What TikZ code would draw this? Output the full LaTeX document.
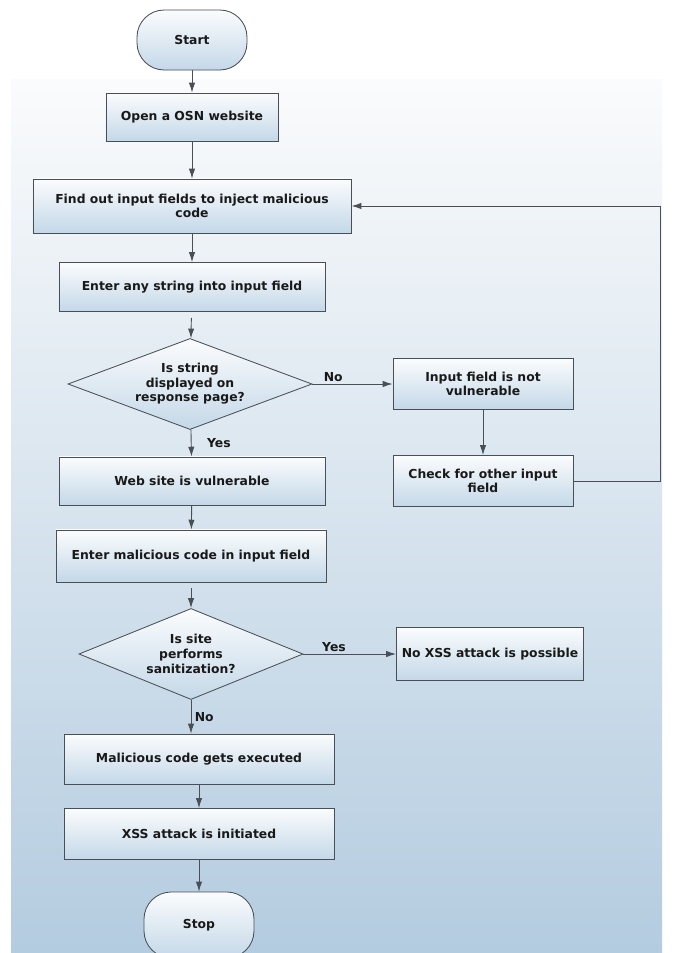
\documentclass[tikz,border=0pt]{standalone}
\usepackage{fontspec}
\setmainfont{DejaVu Sans}
\usetikzlibrary{shapes.geometric, arrows.meta, positioning}

\definecolor{bgtop}{HTML}{FAFBFC}
\definecolor{bgbot}{HTML}{B4CCE0}
\definecolor{boxtop}{HTML}{FBFCFD}
\definecolor{boxbot}{HTML}{C4D8E8}
\definecolor{edge}{HTML}{4A4F55}

\begin{document}
\begin{tikzpicture}[
        x=0.025cm, y=-0.025cm,
        every node/.style={font=\fontsize{8.8}{10.4}\selectfont\bfseries, text=black!90},
        proc_box/.style={draw=edge, line width=0.6pt, top color=boxtop, bottom color=boxbot, minimum height=1.25cm, align=center, inner sep=2pt},
        term_node/.style={proc_box, rounded corners=0.68cm, minimum width=2.75cm},
        decision/.style={draw=edge, line width=0.6pt, diamond, aspect=2.68, inner sep=0pt, top color=boxtop, bottom color=boxbot, align=center, minimum width=6.1cm, minimum height=2.275cm},
        arrow/.style={-{Latex[length=7pt,width=4.5pt]}, draw=edge, line width=0.65pt},
        label_yn/.style={inner sep=1pt}
    ]

    % ================= Background =================
    \useasboundingbox (0,0) rectangle (674,953);
    \fill[white] (0,0) rectangle (674,953);
    \shade[top color=bgtop, bottom color=bgbot] (11,80) rectangle (662,953);

    % ================= Main column =================
    \node[term_node, minimum height=1.5cm] (start) at (192,40) {Start};
    \node[proc_box, minimum width=4.3cm, minimum height=1.2cm] (open_osn) at (192,117) {Open a OSN website};
    \node[proc_box, minimum width=7.95cm, minimum height=1.35cm] (find_fields) at (192,206) {Find out input fields to inject malicious\\code};
    \node[proc_box, minimum width=6.65cm, minimum height=1.225cm] (enter_str) at (192,287) {Enter any string into input field};
    \node[decision] (is_shown) at (190,384) {Is string\\displayed on\\response page?};
    \node[proc_box, minimum width=6.65cm, minimum height=1.2cm] (site_vuln) at (192,481) {Web site is vulnerable};
    \node[proc_box, minimum width=6.75cm, minimum height=1.3cm] (enter_mal) at (191,556) {Enter malicious code in input field};
    \node[decision, minimum width=5.6cm] (is_sanit) at (191,654) {Is site\\performs\\sanitization?};
    \node[proc_box, minimum width=6.75cm] (code_exec) at (199,759) {Malicious code gets executed};
    \node[proc_box, minimum width=6.75cm, minimum height=1.275cm] (xss_start) at (199,834) {XSS attack is initiated};
    \node[term_node, minimum height=1.65cm] (stop) at (199,925) {Stop};

    % ================= Right side =================
    \node[proc_box, minimum width=4.5cm, minimum height=1.275cm] (not_vuln) at (483,384) {Input field is not\\vulnerable};
    \node[proc_box, minimum width=4.5cm, minimum height=1.275cm] (check_other) at (483,481) {Check for other input\\field};
    \node[proc_box, minimum width=4.675cm, minimum height=1.325cm] (no_xss) at (490,654) {No XSS attack is possible};
    \coordinate (loop_turn) at (660,481);

    % ================= Connectors =================
    \draw[arrow] (start) -- (open_osn);
    \draw[arrow] (open_osn) -- (find_fields);
    \draw[arrow] (find_fields) -- (enter_str);
    \draw[arrow, shorten <=1.5mm] (enter_str) -- (is_shown);
    \draw[arrow] (is_shown) -- node[label_yn, pos=0.26, above] {No} (not_vuln);
    \draw[arrow] (is_shown) -- node[label_yn, midway, right=3.5mm] {Yes} (site_vuln);
    \draw[arrow] (not_vuln) -- (check_other);
    \draw[arrow] (check_other.east) -- (loop_turn) |- (find_fields.east);
    \draw[arrow] (site_vuln) -- (enter_mal);
    \draw[arrow, shorten <=1.5mm] (enter_mal) -- (is_sanit);
    \draw[arrow] (is_sanit) -- node[label_yn, pos=0.33, above] {Yes} (no_xss);
    \draw[arrow] (is_sanit.south) -- node[label_yn, midway, right=0.5mm] {No} (is_sanit.south |- code_exec.north);
    \draw[arrow] (code_exec) -- (xss_start);
    \draw[arrow] (xss_start) -- (stop);

\end{tikzpicture}
\end{document}
